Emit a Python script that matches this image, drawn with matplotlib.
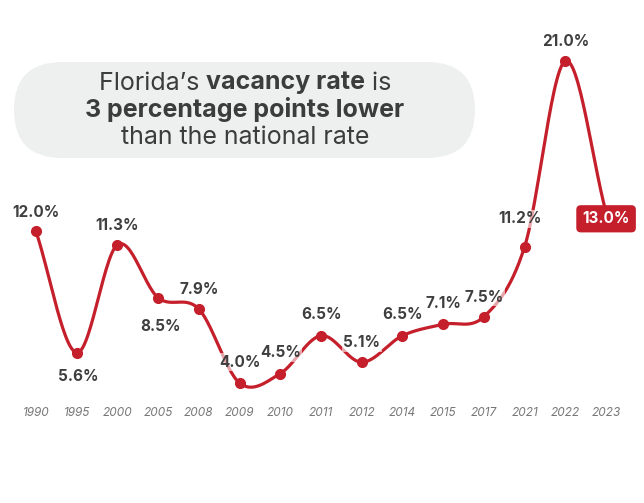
import matplotlib.pyplot as plt
import matplotlib.transforms as mtransforms
from matplotlib.patches import FancyBboxPatch
import numpy as np

# data
years = ['1990', '1995', '2000', '2005', '2008', '2009', '2010', '2011',
         '2012', '2014', '2015', '2017', '2021', '2022', '2023']
rates = [12.0, 5.6, 11.3, 8.5, 7.9, 4.0, 4.5, 6.5, 5.1, 6.5, 7.1, 7.5, 11.2, 21.0, 13.0]
# label offsets in points (dx, dy)
label_offsets = [(0, 14), (1, -17), (0, 14), (2, -21), (0, 14), (0, 15), (0, 15),
                 (0, 15), (0, 14), (0, 15), (0, 15), (0, 14), (-3, 20), (0, 14), (0, 0)]

RED = '#c41f2b'
DARK = '#3f3f3f'
plt.rcParams['font.family'] = ['Inter', 'DejaVu Sans']

W, H = 644, 503
fig = plt.figure(figsize=(W / 100, H / 100), dpi=100)
ax = fig.add_axes([0, 0, 1, 1])
ax.axis('off')

# pixel mapping: index 0 -> x=36, step 40.7 ; value 4.0 -> 120px from bottom, 18.94 px/unit
x0, dx = 36, 40.72
ppu = 18.94
ax.set_xlim(-x0 / dx, (W - x0) / dx)
ax.set_ylim(4.0 - 120 / ppu, 4.0 + (H - 120) / ppu)

# catmull-rom smoothing through the points
xs = np.arange(len(rates), dtype=float)
ys = np.array(rates)
n = len(ys)
m = np.zeros(n)
m[1:-1] = (ys[2:] - ys[:-2]) / 2
m[0] = ys[1] - ys[0]
m[-1] = ys[-1] - ys[-2]
cx, cy = [], []
t = np.linspace(0, 1, 30)
for i in range(n - 1):
    h00 = 2 * t**3 - 3 * t**2 + 1
    h10 = t**3 - 2 * t**2 + t
    h01 = -2 * t**3 + 3 * t**2
    h11 = t**3 - t**2
    cx.extend(xs[i] + t)
    cy.extend(h00 * ys[i] + h10 * m[i] + h01 * ys[i + 1] + h11 * m[i + 1])
ax.plot(cx, cy, color=RED, lw=2.3, solid_capstyle='round', zorder=2)
ax.plot(xs[:-1], ys[:-1], 'o', color=RED, ms=7, zorder=3)

# value labels
for i, (v, (ox, oy)) in enumerate(zip(rates, label_offsets)):
    if i == n - 1:
        continue
    ax.annotate(f'{v:.1f}%', (xs[i], v), xytext=(ox, oy), textcoords='offset points',
                ha='center', va='center', fontsize=11, fontweight='bold', color=DARK,
                bbox=dict(boxstyle='square,pad=0.1', fc='white', ec='none', alpha=0.6),
                zorder=4)
ax.annotate(f'{rates[-1]:.1f}%', (xs[-1], rates[-1]), xytext=(0, -4.5), textcoords='offset points',
            ha='center', va='center', fontsize=11, fontweight='bold', color='white',
            bbox=dict(boxstyle='round,pad=0.4,rounding_size=0.3', fc=RED, ec='none'),
            zorder=4)

# year labels
trans = mtransforms.blended_transform_factory(ax.transData, fig.transFigure)
for i, yr in enumerate(years):
    ax.text(xs[i], 1 - 413 / H, yr, transform=trans, ha='center', va='center',
            fontsize=8.5, fontstyle='italic', color='#777777')

# headline box
pix = mtransforms.IdentityTransform()
box = FancyBboxPatch((14, H - 158), 461, 96,
                     boxstyle='round,pad=0,rounding_size=48', transform=pix,
                     fc='#eef0f0', ec='none', zorder=0)
fig.patches.append(box)

renderer = fig.canvas.get_renderer()
cxp = 245
lines = [[("Florida\u2019s ", 'normal'), ("vacancy rate", 'bold'), (" is", 'normal')],
         [("3 percentage points lower", 'bold')],
         [("than the national rate", 'normal')]]
line_y = [H - 83, H - 110, H - 137]
for parts, ly in zip(lines, line_y):
    texts = []
    for s, wgt in parts:
        tx = fig.text(0, ly, s, transform=pix, fontsize=18, fontweight=wgt,
                      color='#3c3c3c', ha='left', va='center')
        texts.append(tx)
    widths = [tx.get_window_extent(renderer).width for tx in texts]
    xstart = cxp - sum(widths) / 2
    for tx, w in zip(texts, widths):
        tx.set_x(xstart)
        xstart += w

fig.savefig('out.png', dpi=100)
